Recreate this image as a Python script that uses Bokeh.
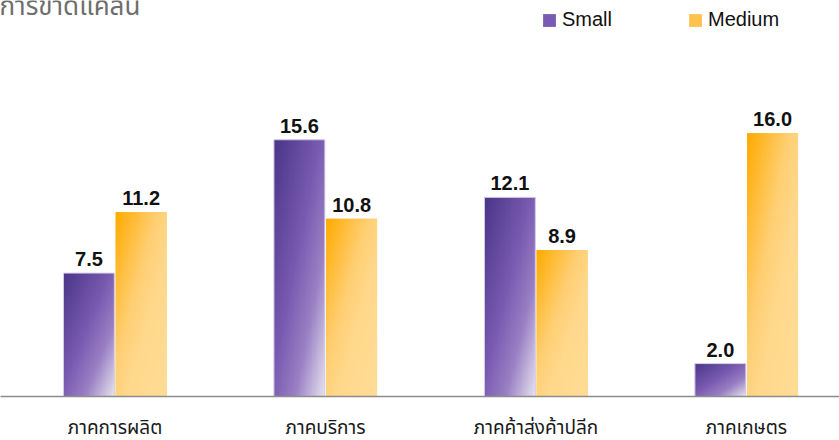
import numpy as np
from bokeh.plotting import figure
from bokeh.models import ColumnDataSource, Legend, LegendItem, Label, FixedTicker
from bokeh.core.properties import value
from bokeh.embed import file_html
from bokeh.resources import INLINE

# ---- data ----
title_text = "การขาดแคลน"
categories = ["ภาคการผลิต", "ภาคบริการ", "ภาคค้าส่งค้าปลีก", "ภาคเกษตร"]
series_names = ["Small", "Medium"]
small = [7.5, 15.6, 12.1, 2.0]
medium = [11.2, 10.8, 8.9, 16.0]

# ---- styling ----
BAR_W = 0.242
GAP = 0.006
PURPLE_STOPS = [(0.0, "#4a3688"), (0.45, "#7a5bb2"), (0.7, "#9a80c4"), (1.0, "#e8e6f1")]
ORANGE_STOPS = [(0.0, "#ffab00"), (0.4, "#ffcf72"), (0.6, "#ffd88c"), (1.0, "#ffdc96")]


def hex2rgb(h):
    h = h.lstrip("#")
    return [int(h[i:i + 2], 16) for i in (0, 2, 4)]


def gradient(stops, w=60, h=300):
    u = np.linspace(0, 1, w)[None, :]
    v = np.linspace(0, 1, h)[:, None]
    t = (u + v) / 2.0
    pos = [s[0] for s in stops]
    cols = np.array([hex2rgb(s[1]) for s in stops], dtype=float)
    img = np.zeros((h, w, 4), dtype=np.uint8)
    for c in range(3):
        img[:, :, c] = np.interp(t, pos, cols[:, c]).astype(np.uint8)
    img[:, :, 3] = 255
    img = img[::-1]  # row 0 is the bottom
    return img.view(dtype=np.uint32).reshape((h, w))


xs = np.arange(len(categories), dtype=float)
src_s = ColumnDataSource(dict(left=xs - GAP / 2 - BAR_W, right=xs - GAP / 2, top=small,
                              x=xs - GAP / 2 - BAR_W / 2, lab=[f"{v:.1f}" for v in small]))
src_m = ColumnDataSource(dict(left=xs + GAP / 2, right=xs + GAP / 2 + BAR_W, top=medium,
                              x=xs + GAP / 2 + BAR_W / 2, lab=[f"{v:.1f}" for v in medium]))

px_per_unit = 16.5
frame_h = 397
p = figure(width=839, height=440, output_backend="svg", toolbar_location=None,
           x_range=(-0.544, 3.442), y_range=(0, frame_h / px_per_unit),
           min_border_left=0, min_border_right=0, min_border_top=0, min_border_bottom=43)
p.outline_line_color = None
p.grid.visible = False
p.yaxis.visible = False
p.background_fill_color = "white"

r_s = p.quad(left="left", right="right", bottom=0, top="top", source=src_s,
             fill_color="#7a5bb2", line_color=None)
r_m = p.quad(left="left", right="right", bottom=0, top="top", source=src_m,
             fill_color="#ffc34d", line_color=None)

# gradient overlays positioned by data
for i in range(len(categories)):
    p.image_rgba(image=[gradient(PURPLE_STOPS)], x=src_s.data["left"][i], y=0,
                 dw=BAR_W, dh=small[i])
    p.image_rgba(image=[gradient(ORANGE_STOPS)], x=src_m.data["left"][i], y=0,
                 dw=BAR_W, dh=medium[i])

p.quad(left="left", right="right", bottom=0, top="top", source=src_s,
       fill_alpha=0, line_color="#d9d3e8", line_width=1)

for src in (src_s, src_m):
    p.text(x="x", y="top", text="lab", source=src, text_align="center",
           text_baseline="alphabetic", y_offset=-14, text_font=value("Liberation Sans"),
           text_font_style="bold", text_font_size="20px", text_color="#111111")

# x axis
p.xaxis.ticker = FixedTicker(ticks=list(range(len(categories))))
p.xaxis.major_label_overrides = {i: c for i, c in enumerate(categories)}
p.xaxis.major_tick_line_color = None
p.xaxis.major_tick_out = 0
p.xaxis.major_tick_in = 0
p.xaxis.minor_tick_line_color = None
p.xaxis.axis_line_color = "#8c8c8c"
p.xaxis.axis_line_width = 1.5
p.xaxis.major_label_text_font = "Liberation Sans, Noto Sans Thai, sans-serif"
p.xaxis.major_label_text_font_size = "19px"
p.xaxis.major_label_text_color = "#1a1a1a"
p.xaxis.major_label_standoff = 20

# legend
legend = Legend(items=[LegendItem(label=series_names[0], renderers=[r_s]),
                       LegendItem(label=series_names[1], renderers=[r_m])],
                orientation="horizontal", location=(541, 365),
                glyph_width=16, glyph_height=16, label_standoff=5, spacing=75,
                padding=0, margin=0, border_line_alpha=0, background_fill_alpha=0,
                label_text_font="Liberation Sans", label_text_font_size="20px",
                label_text_color="#111111")
p.add_layout(legend, "center")

# title, partly above the page as in the reference
p.add_layout(Label(x=-1, y=390, x_units="screen", y_units="screen", text=title_text,
                   text_font="Noto Sans Thai, Noto Sans, sans-serif", text_font_size="26px",
                   text_color="#6e6e6e", text_baseline="alphabetic"))

open("out.html", "w").write(file_html(p, INLINE))
